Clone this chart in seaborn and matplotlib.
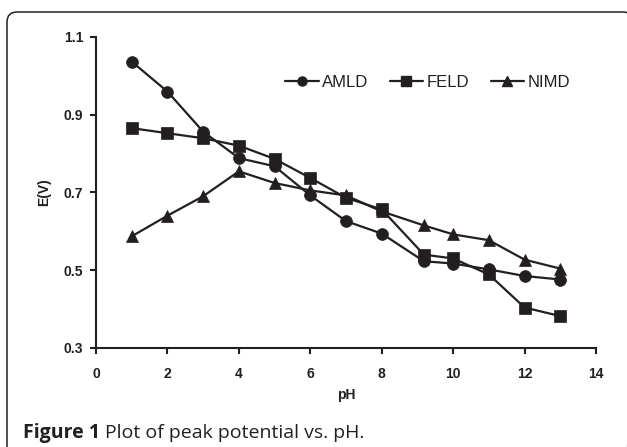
import pandas as pd
import matplotlib.pyplot as plt
import seaborn as sns
from matplotlib.lines import Line2D
from matplotlib.patches import FancyBboxPatch

# Data
ph = [1, 2, 3, 4, 5, 6, 7, 8, 9.18, 10, 11, 12, 13]
amld = [1.036, 0.959, 0.856, 0.788, 0.767, 0.692, 0.626, 0.594, 0.523, 0.517, 0.502, 0.485, 0.476]
feld = [0.865, 0.852, 0.839, 0.820, 0.786, 0.737, 0.686, 0.656, 0.540, 0.530, 0.489, 0.404, 0.382]
nimd = [0.587, 0.640, 0.690, 0.754, 0.724, 0.705, 0.692, 0.651, 0.615, 0.592, 0.577, 0.527, 0.504]
series = ["AMLD", "FELD", "NIMD"]
marker_map = {"AMLD": "o", "FELD": "s", "NIMD": "^"}
x_ticks = [0, 2, 4, 6, 8, 10, 12, 14]
y_ticks = [0.3, 0.5, 0.7, 0.9, 1.1]

df = pd.concat([
    pd.DataFrame({"pH": ph, "E": amld, "series": "AMLD"}),
    pd.DataFrame({"pH": ph, "E": feld, "series": "FELD"}),
    pd.DataFrame({"pH": ph, "E": nimd, "series": "NIMD"}),
])

sns.set_style("white")
plt.rcParams["font.family"] = ["Liberation Sans", "DejaVu Sans"]

ink = "#231f20"
fig = plt.figure(figsize=(6.27, 4.47), dpi=100)
ax = fig.add_axes([0.1531, 0.2215, 0.7975, 0.6964])

sns.lineplot(data=df, x="pH", y="E", style="series", markers=marker_map,
             dashes=False, color=ink, linewidth=1.6, markersize=8.5,
             markeredgecolor=ink, markeredgewidth=0.5, legend=False,
             sort=False, ax=ax)

ax.set_xlim(0, 14)
ax.set_ylim(0.3, 1.1)
ax.set_xticks(x_ticks)
ax.set_yticks(y_ticks)
ax.set_xticklabels([str(t) for t in x_ticks])
ax.set_yticklabels([f"{t:.1f}" for t in y_ticks])
ax.tick_params(direction="out", length=4, width=1.5, color=ink, labelcolor=ink,
               labelsize=10, left=True, bottom=True)
ax.tick_params(axis="x", pad=10)
ax.tick_params(axis="y", pad=5)
for lab in ax.get_xticklabels() + ax.get_yticklabels():
    lab.set_fontweight("bold")
for s in ["top", "right"]:
    ax.spines[s].set_visible(False)
for s in ["left", "bottom"]:
    ax.spines[s].set_color(ink)
    ax.spines[s].set_linewidth(1.5)
ax.set_xlabel("pH", fontsize=10, fontweight="bold", color=ink, labelpad=5)
ax.set_ylabel("E(V)", fontsize=10, fontweight="bold", color=ink, labelpad=9)

handles = [Line2D([], [], color=ink, lw=1.6, marker=marker_map[s], markersize=6.5,
                  markeredgecolor=ink) for s in series]
ax.legend(handles, series, ncol=3, loc="center", bbox_to_anchor=(0.663, 0.852),
          frameon=False, fontsize=12, handlelength=2.0, handletextpad=0.2,
          columnspacing=1.3, labelcolor=ink)

# Frame and caption in pixel coordinates
over = fig.add_axes([0, 0, 1, 1], zorder=-1)
over.set_xlim(0, 627)
over.set_ylim(447, 0)
over.axis("off")
over.add_patch(FancyBboxPatch((7, 12), 626, 470, boxstyle="round,pad=0,rounding_size=10",
                              fill=False, edgecolor=ink, linewidth=1.1))
cap_font = ["Open Sans", "DejaVu Sans"]
t1 = over.text(23, 433, "Figure 1", fontsize=14, fontweight="bold", family=cap_font,
               color=ink, va="center", ha="left")
fig.canvas.draw()
bb = t1.get_window_extent()
over.text(bb.x1 + 5, 433, "Plot of peak potential vs. pH.", fontsize=14, family=cap_font,
          color=ink, va="center", ha="left")

fig.savefig("out.png", dpi=100)
